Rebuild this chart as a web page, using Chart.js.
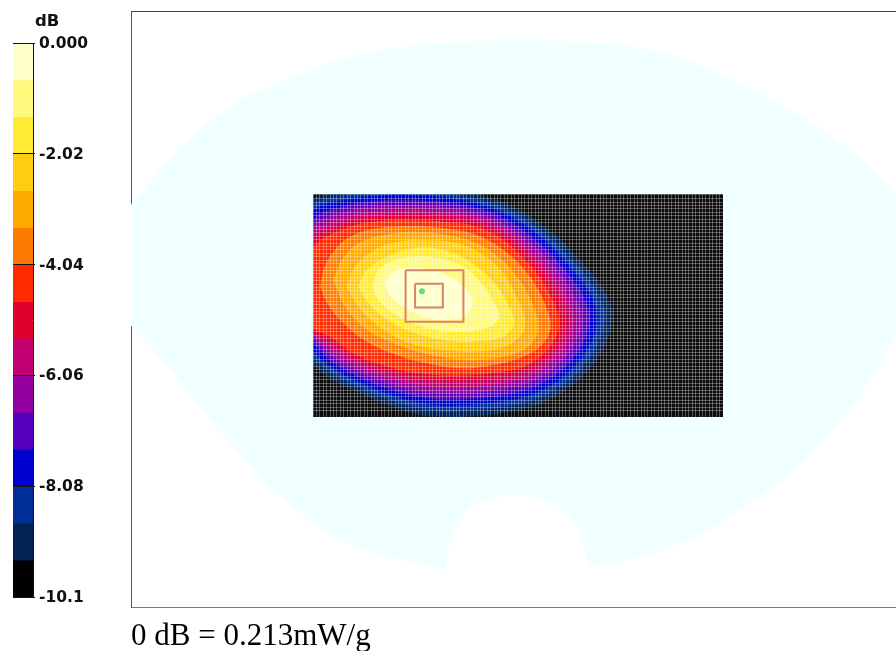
<!DOCTYPE html>
<html><head><meta charset="utf-8">
<script src="https://cdn.jsdelivr.net/npm/chart.js@4"></script>
<style>
html,body{margin:0;padding:0;background:#fff;width:896px;height:651px;overflow:hidden}
canvas{position:absolute}
#bg{left:0;top:0}#bar{left:0;top:0}#field{left:313px;top:194px;filter:blur(0.7px)}#marks{left:313px;top:194px;filter:blur(0.4px)}
</style></head><body>
<canvas id="bg" width="896" height="651"></canvas>
<canvas id="bar" width="130" height="651"></canvas>
<canvas id="field" width="410" height="223"></canvas>
<canvas id="marks" width="410" height="223"></canvas>
<script>
const captionText = '0 dB = 0.213mW/g';
const unitText = 'dB';
const tickValues = [0, -2.02, -4.04, -6.06, -8.08, -10.1];
const tickLabels = ['0.000', '-2.02', '-4.04', '-6.06', '-8.08', '-10.1'];
const bandEdges = [0, -0.673, -1.347, -2.02, -2.693, -3.367, -4.04, -4.713, -5.387, -6.06, -6.733, -7.407, -8.08, -8.753, -9.427, -10.1];
const bandColors = ['#FFFFC8','#FFF97D','#FFEB33','#FFCC11','#FFAA00','#FF7A00','#FF2A00','#E0002F','#C00070','#9400A0','#5500BB','#0000CC','#002F9A','#002255','#000000'];

const phantom = [[-6,287],[-7,347],[0,402],[9,412],[56,467],[116,510],[162,530],[216,549],[272,560],[330,565],[389,567],[450,565],[509,559],[552,548],[609,524],[659,497],[709,465],[742,437],[765,410],[774,387],[774,287],[765,272],[729,212],[669,142],[589,84],[525,54],[458,40],[458,40],[444,84],[421,104],[383,112],[341,100],[322,74],[314,37],[314,37],[234,57],[188,80],[142,117],[109,152],[81,185],[41,235],[4,277],[-6,287]];

const contour1 = [[-260,290],[40,43],[150,10],[240,2],[330,0],[430,8],[530,27],[640,65],[760,145],[830,215],[900,295],[932,360],[938,400],[920,470],[870,550],[790,620],[680,670],[480,697],[380,693],[280,665],[180,625],[90,580],[40,540],[-260,290]];
const contour2 = [[-226,293],[40,58],[150,26],[240,17],[330,15],[430,23],[530,41],[636,79],[747,156],[814,223],[878,299],[909,362],[915,403],[897,470],[849,545],[773,609],[670,654],[480,679],[380,675],[280,649],[179,609],[90,562],[40,520],[-226,293]];
const contour3 = [[-191,296],[40,75],[150,43],[240,32],[330,30],[430,37],[530,55],[631,94],[734,166],[797,231],[856,302],[886,364],[892,406],[874,470],[827,540],[756,599],[660,639],[480,661],[380,657],[280,632],[177,592],[90,544],[40,500],[-191,296]];
const contour4 = [[-157,299],[40,100],[150,59],[240,47],[330,45],[430,52],[530,69],[627,108],[721,177],[781,239],[834,306],[863,366],[869,409],[851,470],[806,535],[739,588],[650,623],[480,643],[380,639],[280,616],[176,576],[90,526],[40,475],[-157,299]];
const contour5 = [[-123,301],[40,120],[150,76],[240,63],[330,60],[430,66],[530,83],[623,122],[709,188],[764,246],[811,309],[839,369],[847,411],[829,470],[784,530],[721,577],[640,607],[480,626],[380,622],[280,599],[174,559],[90,509],[40,460],[-123,301]];
const contour6 = [[-89,304],[40,140],[150,92],[240,78],[330,75],[430,81],[530,97],[619,136],[696,199],[748,254],[789,313],[816,371],[824,414],[806,470],[763,525],[704,566],[630,591],[480,608],[380,604],[280,583],[173,543],[90,491],[40,450],[-89,304]];
const contour7 = [[-54,307],[40,165],[150,109],[240,93],[330,90],[430,95],[530,111],[614,151],[683,209],[731,262],[767,316],[793,373],[801,417],[783,470],[741,520],[687,556],[620,576],[480,590],[380,586],[280,566],[171,526],[90,473],[40,440],[-54,307]];
const contour8 = [[-20,310],[40,185],[150,125],[240,108],[330,105],[430,110],[530,125],[610,165],[670,220],[715,270],[745,320],[770,375],[778,420],[760,470],[720,515],[670,545],[610,560],[480,572],[380,568],[280,550],[170,510],[90,455],[40,430],[-20,310]];
const contour9 = [[60,305],[72,250],[100,200],[150,155],[230,130],[330,123],[430,130],[530,150],[610,195],[670,250],[715,315],[745,385],[752,430],[725,480],[670,515],[580,540],[480,550],[380,535],[290,510],[200,470],[130,415],[85,360],[60,305]];
const contour10 = [[100,285],[125,225],[175,175],[250,150],[340,140],[440,150],[530,175],[600,220],[655,280],[695,350],[715,415],[700,470],[640,508],[570,522],[490,525],[380,507],[280,475],[195,430],[135,365],[100,285]];
const contour11 = [[140,305],[165,245],[215,200],[290,170],[380,165],[470,175],[550,210],[610,265],[650,335],[675,405],[660,455],[600,490],[520,500],[430,495],[330,475],[245,430],[175,365],[140,305]];
const contour12 = [[175,305],[200,255],[260,215],[340,190],[430,195],[510,230],[575,285],[620,350],[642,415],[610,455],[540,468],[460,468],[370,452],[280,415],[210,360],[175,305]];
const contour13 = [[218,300],[240,250],[310,218],[410,218],[490,245],[545,295],[580,350],[598,395],[570,425],[500,440],[410,435],[330,412],[270,378],[232,340],[218,300]];
const contour14 = [[255,300],[272,268],[315,250],[375,252],[435,268],[490,305],[518,350],[498,388],[445,405],[380,398],[315,368],[272,335],[255,300]];
const contours = [contour1,contour2,contour3,contour4,contour5,contour6,contour7,contour8,contour9,contour10,contour11,contour12,contour13,contour14];

const scanArea = [[39,27],[1269,27],[1269,696],[39,696],[39,27]];
const outerSquare = [[310,252],[487,252],[487,412],[310,412],[310,252]];
const innerSquare = [[339,294],[424,294],[424,368],[339,368],[339,294]];
const peakPoint = [[360,317]];

const flat = s => { if (s.isHorizontal()) s.height = 0; else s.width = 0; s.paddingTop = s.paddingBottom = s.paddingLeft = s.paddingRight = 0; };
const hiddenTicks = { display: false };
const noGrid = { display: false };

// background: phantom outline, frame, caption
new Chart(document.getElementById('bg'), {
  type: 'scatter',
  data: { datasets: [{ data: phantom, showLine: true, fill: 'shape', backgroundColor: '#F0FFFF', borderWidth: 0, pointRadius: 0, tension: 0.3 }] },
  options: {
    responsive: false, animation: false,
    layout: { padding: { left: 131, top: 11, right: 0, bottom: 0 } },
    plugins: { legend: { display: false }, tooltip: { enabled: false },
      title: { display: true, text: captionText, position: 'bottom', align: 'start', color: '#000',
        font: { family: '"Liberation Serif"', size: 31, weight: 'normal', lineHeight: '28px' }, padding: { top: 16, bottom: 0 } } },
    scales: {
      x: { type: 'linear', min: 0, max: 765, afterFit: flat, grid: noGrid, ticks: hiddenTicks, border: { color: '#777', width: 1 } },
      xTop: { type: 'linear', position: 'top', min: 0, max: 765, afterFit: flat, grid: noGrid, ticks: hiddenTicks, border: { color: '#444', width: 1 } },
      y: { type: 'linear', min: 0, max: 596, afterFit: flat, grid: noGrid, ticks: hiddenTicks, border: { color: '#555', width: 1 } }
    }
  }
});

// colour bar
const unitLabel = { id: 'unitLabel', afterDraw(c) {
  const s = c.scales.y, ctx = c.ctx; ctx.save();
  ctx.font = 'bold 16.5px "DejaVu Sans"'; ctx.fillStyle = '#111'; ctx.textBaseline = 'middle';
  ctx.fillText(unitText, s.left + 2, s.top - 21); ctx.restore();
}};
new Chart(document.getElementById('bar'), {
  type: 'bar',
  data: { labels: [''], datasets: bandColors.map((col, i) => ({ data: [[bandEdges[i + 1], bandEdges[i]]], backgroundColor: col, borderWidth: 0, barPercentage: 1, categoryPercentage: 1, grouped: false })) },
  options: {
    responsive: false, animation: false,
    layout: { padding: { left: 13, top: 43, right: 0, bottom: 54 } },
    plugins: { legend: { display: false }, tooltip: { enabled: false } },
    scales: {
      x: { afterFit: flat, grid: noGrid, ticks: hiddenTicks, border: { display: false } },
      y: { position: 'right', min: -10.1, max: 0,
        afterBuildTicks(s) { s.ticks = tickValues.map(v => ({ value: v })); },
        afterFit(s) { s.width = 97; s.paddingTop = 0; s.paddingBottom = 0; },
        grid: { color: '#111', lineWidth: 1, z: 1, tickLength: 2 },
        border: { color: '#111', width: 1, z: 2 },
        ticks: { autoSkip: false, padding: 4, labelOffset: 1, color: '#111', font: { family: '"DejaVu Sans"', weight: 'bold', size: 15.5 },
          callback(v, i) { return tickLabels[i]; } } },
      yLeft: { position: 'left', min: -10.1, max: 0, afterFit: flat, grid: noGrid, ticks: hiddenTicks, border: { color: '#111', width: 1 } }
    }
  },
  plugins: [unitLabel]
});

// shared scale ranges of the measurement field
const fieldX = { type: 'linear', min: 39, max: 1269, afterFit: flat, border: { display: false } };
const fieldY = { type: 'linear', min: 27, max: 696, reverse: true, afterFit: flat, border: { display: false } };
const meshGrid = { color: 'rgba(255,255,255,0.3)', lineWidth: 1, drawTicks: false, z: 1 };
const meshTicks = { display: false, stepSize: 10.25, autoSkip: false };

// measurement field: black scan area, contour bands, mesh on top
new Chart(document.getElementById('field'), {
  type: 'scatter',
  data: { datasets: [
    ...contours.map((c, i) => ({ data: c, showLine: true, fill: 'shape', backgroundColor: bandColors[13 - i], borderWidth: 0, pointRadius: 0, tension: 0.4, order: 20 - i })),
    { data: scanArea, showLine: true, fill: 'shape', backgroundColor: '#0C0C0C', borderWidth: 0, pointRadius: 0, order: 30 }
  ] },
  options: {
    responsive: false, animation: false, layout: { padding: 0 },
    plugins: { legend: { display: false }, tooltip: { enabled: false } },
    scales: { x: { ...fieldX, grid: meshGrid, ticks: meshTicks }, y: { ...fieldY, grid: meshGrid, ticks: meshTicks } }
  }
});

// measurement squares and peak marker
new Chart(document.getElementById('marks'), {
  type: 'scatter',
  data: { datasets: [
    { data: peakPoint, pointRadius: 3, pointBackgroundColor: '#66DD77', pointBorderWidth: 0 },
    { data: innerSquare, showLine: true, borderColor: '#D98468', borderWidth: 2, pointRadius: 0 },
    { data: outerSquare, showLine: true, borderColor: '#D98468', borderWidth: 2, pointRadius: 0 }
  ] },
  options: {
    responsive: false, animation: false, layout: { padding: 0 },
    plugins: { legend: { display: false }, tooltip: { enabled: false } },
    scales: { x: { ...fieldX, grid: noGrid, ticks: hiddenTicks }, y: { ...fieldY, grid: noGrid, ticks: hiddenTicks } }
  }
});
</script></body></html>
